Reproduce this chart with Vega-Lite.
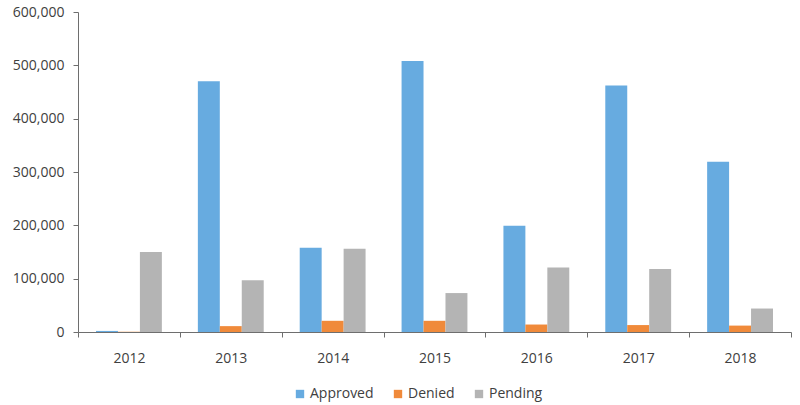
{
  "$schema": "https://vega.github.io/schema/vega-lite/v6.json",
  "width": 713,
  "height": 320,
  "autosize": {"type": "none"},
  "padding": {"left": 78, "right": 9, "top": 12, "bottom": 73},
  "background": "white",
  "data": {
    "values": [
      {"year": "2012", "status": "Approved", "count": 2000},
      {"year": "2012", "status": "Denied", "count": 500},
      {"year": "2012", "status": "Pending", "count": 150000},
      {"year": "2013", "status": "Approved", "count": 470000},
      {"year": "2013", "status": "Denied", "count": 11000},
      {"year": "2013", "status": "Pending", "count": 97000},
      {"year": "2014", "status": "Approved", "count": 158000},
      {"year": "2014", "status": "Denied", "count": 21000},
      {"year": "2014", "status": "Pending", "count": 156000},
      {"year": "2015", "status": "Approved", "count": 508000},
      {"year": "2015", "status": "Denied", "count": 21000},
      {"year": "2015", "status": "Pending", "count": 73000},
      {"year": "2016", "status": "Approved", "count": 199000},
      {"year": "2016", "status": "Denied", "count": 14000},
      {"year": "2016", "status": "Pending", "count": 121000},
      {"year": "2017", "status": "Approved", "count": 462000},
      {"year": "2017", "status": "Denied", "count": 13000},
      {"year": "2017", "status": "Pending", "count": 118000},
      {"year": "2018", "status": "Approved", "count": 319000},
      {"year": "2018", "status": "Denied", "count": 12000},
      {"year": "2018", "status": "Pending", "count": 44000}
    ]
  },
  "mark": {"type": "bar"},
  "encoding": {
    "x": {
      "field": "year", "type": "nominal", "title": null,
      "scale": {"paddingInner": 0, "paddingOuter": 0},
      "axis": {"labelAngle": 0, "tickBand": "extent", "labelPadding": 14, "tickSize": 5}
    },
    "xOffset": {
      "field": "status", "type": "nominal",
      "scale": {"paddingInner": 0, "paddingOuter": 0.82}
    },
    "y": {
      "field": "count", "type": "quantitative", "title": null,
      "scale": {"domain": [0, 600000], "nice": false},
      "axis": {"values": [0, 100000, 200000, 300000, 400000, 500000, 600000], "format": ",d", "grid": false, "tickSize": 5, "labelPadding": 9}
    },
    "color": {
      "field": "status", "type": "nominal",
      "scale": {"domain": ["Approved", "Denied", "Pending"], "range": ["#67abe0", "#f08a3a", "#b4b4b4"]},
      "legend": {"title": null, "orient": "none", "legendX": 215, "legendY": 375, "direction": "horizontal", "symbolType": "square", "symbolSize": 70, "labelFontSize": 14, "labelOffset": 3, "columnPadding": 17}
    }
  },
  "config": {
    "view": {"stroke": null},
    "font": "Open Sans",
    "axis": {"labelFont": "Open Sans", "labelFontSize": 14, "labelColor": "#404040", "domainColor": "#6e6e6e", "tickColor": "#6e6e6e"},
    "legend": {"labelFont": "Open Sans", "labelColor": "#404040"}
  }
}
